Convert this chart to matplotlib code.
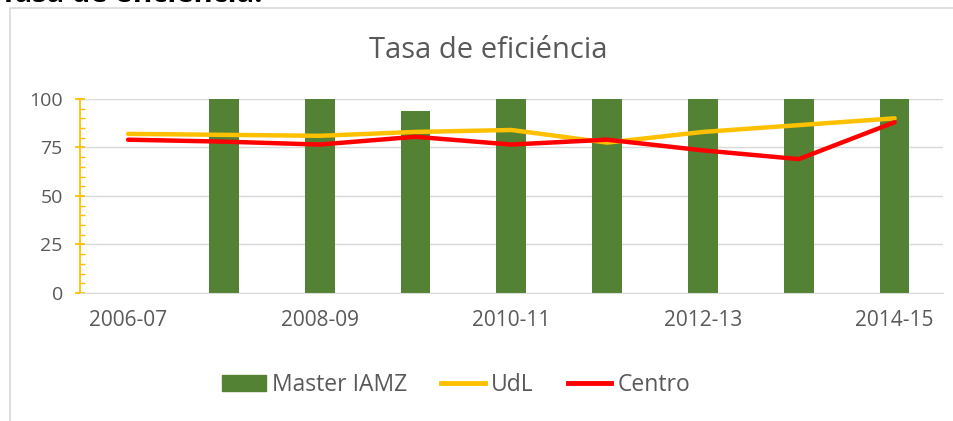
import matplotlib.pyplot as plt
from matplotlib.patches import Rectangle
from matplotlib.lines import Line2D
from matplotlib.ticker import MultipleLocator
import numpy as np

plt.rcParams['font.family'] = ['Open Sans', 'DejaVu Sans']

cursos = ['2006-07', '2007-08', '2008-09', '2009-10', '2010-11',
          '2011-12', '2012-13', '2013-14', '2014-15']
master = [np.nan, 100, 100, 94, 100, 100, 100, 100, 100]
udl = [82, 81.5, 81, 83, 84, 77.5, 83, 86.5, 90]
centro = [79, 78, 76.5, 80.5, 76.5, 79, 73.5, 69, 88]

gris = '#595959'
fig = plt.figure(figsize=(9.54, 4.21), dpi=100)
ax = fig.add_axes([0.084, 0.304, 0.904, 0.461])

x = np.arange(len(cursos))
ax.bar(x, master, width=0.31, color='#548235', zorder=2)
ax.plot(x, udl, color='#ffc000', lw=3.2, zorder=3, solid_capstyle='round')
ax.plot(x, centro, color='#ff0000', lw=3.2, zorder=4, solid_capstyle='round')

ax.set_xlim(-0.5, len(cursos) - 0.5)
ax.set_ylim(0, 100)
ax.set_yticks([0, 25, 50, 75, 100])
ax.yaxis.set_minor_locator(MultipleLocator(5))
ax.set_xticks(x[::2])
ax.set_xticklabels(cursos[::2])
ax.grid(axis='y', color='#d9d9d9', lw=1, zorder=0)

for s in ['top', 'right']:
    ax.spines[s].set_visible(False)
ax.spines['bottom'].set_color('#d9d9d9')
ax.spines['left'].set_color('#ffc000')
ax.spines['left'].set_linewidth(1.3)
ax.tick_params(axis='x', length=0, pad=12, labelsize=15, labelcolor=gris)
ax.tick_params(axis='y', which='major', direction='inout', length=7, width=1.3,
               color='#ffc000', labelsize=14, labelcolor=gris, pad=9)
ax.tick_params(axis='y', which='minor', direction='in', length=3.5, width=1,
               color='#ffc000')

fig.text(0.512, 0.88, 'Tasa de eficiéncia', ha='center', va='center',
         fontsize=21, color=gris)
fig.text(0.0, 1.012, 'Tasa de eficiencia:', ha='left', va='center',
         fontsize=21, fontweight='bold', color='black')

# marco del gráfico
fig.patches.append(Rectangle((10 / 954, -0.1), 2, 1 - 8 / 421 + 0.1,
                             transform=fig.transFigure, fill=False,
                             edgecolor='#d9d9d9', lw=1.2))

handles = [Rectangle((0, 0), 1, 1, color='#548235'),
           Line2D([], [], color='#ffc000', lw=3.5),
           Line2D([], [], color='#ff0000', lw=3.5)]
leg = fig.legend(handles, ['Master IAMZ', 'UdL', 'Centro'], loc='center',
                 bbox_to_anchor=(0.478, 0.085), ncol=3, frameon=False,
                 fontsize=16.5, handlelength=1.9, columnspacing=1.5,
                 handletextpad=0.26)
for t in leg.get_texts():
    t.set_color(gris)

fig.savefig('out.png', dpi=100)
